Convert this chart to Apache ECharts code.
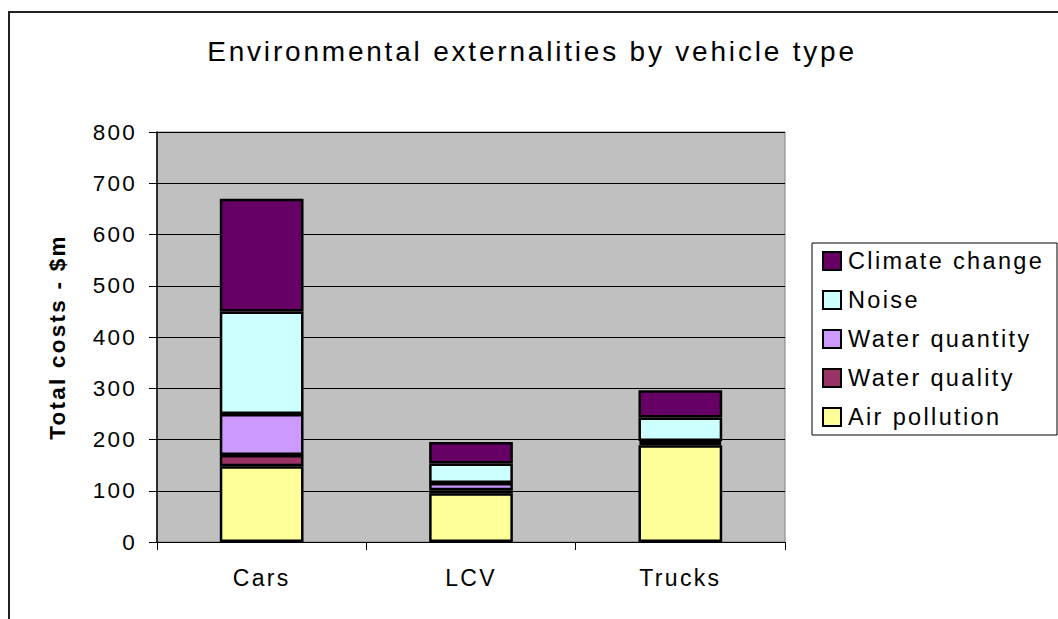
<!DOCTYPE html>
<html>
<head>
<meta charset="utf-8">
<script src="https://cdn.jsdelivr.net/npm/echarts@6/dist/echarts.min.js"></script>
<style>
html,body{margin:0;padding:0;background:#fff;}
#c{width:1058px;height:619px;}
#c text{letter-spacing:0.1em;}
</style>
</head>
<body>
<div id="c"></div>
<script>
const titleText = 'Environmental externalities by vehicle type';
const yAxisName = 'Total costs - $m';
const categories = ['Cars', 'LCV', 'Trucks'];
const seriesNames = ['Air pollution', 'Water quality', 'Water quantity', 'Noise', 'Climate change'];
const airPollution = [148, 95, 189];
const waterQuality = [22, 6, 4];
const waterQuantity = [80, 14, 4];
const noise = [200, 38, 46];
const climateChange = [220, 42, 53];
const yMin = 0, yMax = 800, yStep = 100;

const seriesValues = [airPollution, waterQuality, waterQuantity, noise, climateChange];
const colors = ['#FFFF99', '#993366', '#CC99FF', '#CCFFFF', '#660066'];
const FONT = "'Liberation Sans', Arial, sans-serif";

const chart = echarts.init(document.getElementById('c'), null, {renderer: 'svg'});
chart.setOption({
  animation: false,
  backgroundColor: '#ffffff',
  title: {
    text: titleText,
    left: 527, top: 32, textAlign: 'center',
    textStyle: {fontFamily: FONT, fontSize: 28, fontWeight: 'normal', color: '#000'}
  },
  grid: {
    left: 157, top: 132, right: 273, bottom: 77,
    show: true, backgroundColor: '#C0C0C0', borderColor: '#808080', borderWidth: 1
  },
  legend: {
    orient: 'vertical',
    left: 822, top: 249,
    padding: 0,
    itemWidth: 18, itemHeight: 18, itemGap: 15,
    icon: 'rect',
    data: seriesNames.slice().reverse(),
    itemStyle: {borderColor: '#000', borderWidth: 2},
    textStyle: {fontFamily: FONT, fontSize: 23.5, lineHeight: 22, color: '#000', padding: [0,0,0,2]}
  },
  xAxis: {
    type: 'category',
    data: categories,
    axisLine: {lineStyle: {color: '#000', width: 1}},
    axisTick: {show: true, length: 8, inside: false, lineStyle: {color: '#000'}},
    axisLabel: {fontFamily: FONT, fontSize: 23, color: '#000', margin: 24},
    splitLine: {show: false}
  },
  yAxis: {
    type: 'value',
    min: yMin, max: yMax, interval: yStep,
    name: yAxisName,
    nameLocation: 'middle',
    nameRotate: 90,
    nameGap: 88,
    nameTextStyle: {fontFamily: FONT, fontSize: 22.5, fontWeight: 'bold', color: '#000'},
    axisLine: {show: true, lineStyle: {color: '#000', width: 1.5}},
    axisTick: {show: true, length: 8, lineStyle: {color: '#000'}},
    axisLabel: {fontFamily: FONT, fontSize: 22.5, color: '#000', margin: 20},
    splitLine: {show: true, lineStyle: {color: '#000', width: 1}}
  },
  series: seriesNames.map((n, i) => ({
    name: n,
    type: 'bar',
    stack: 'total',
    barWidth: '40%',
    data: seriesValues[i],
    itemStyle: {color: colors[i], borderColor: '#000', borderWidth: 2.5}
  })),
  graphic: [
    {type: 'rect', shape: {x: 9, y: 12, width: 1100, height: 700}, style: {fill: 'none', stroke: '#222', lineWidth: 2}, silent: true, z: 100},
    {type: 'rect', shape: {x: 812, y: 243, width: 245, height: 192}, style: {fill: 'none', stroke: '#000', lineWidth: 1}, silent: true, z: 100}
  ]
});
</script>
</body>
</html>
